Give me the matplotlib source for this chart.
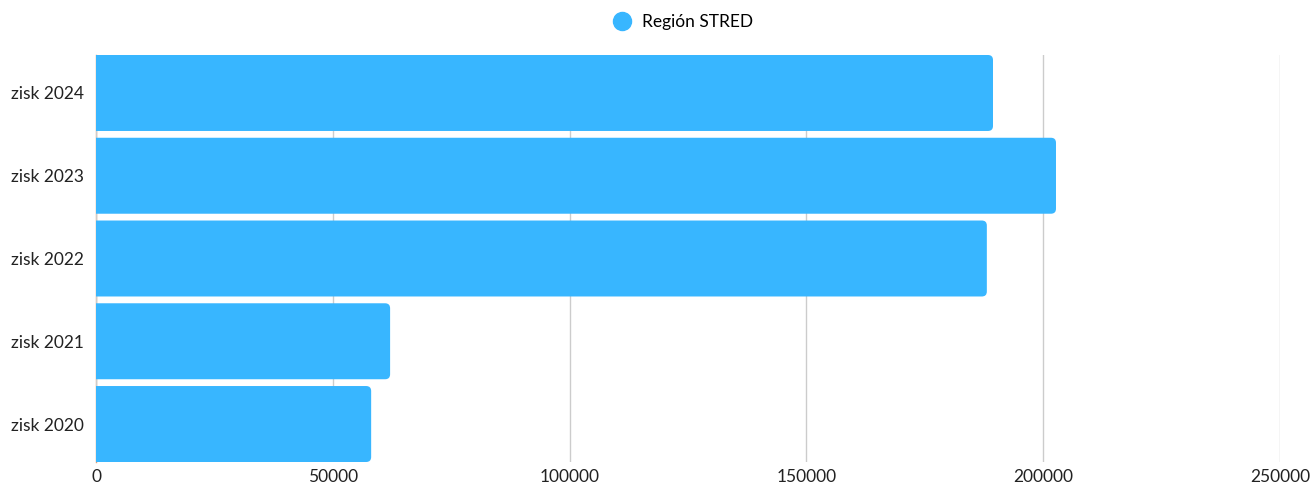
import matplotlib
matplotlib.use("Agg")
import matplotlib.pyplot as plt
from matplotlib.patches import FancyBboxPatch
from matplotlib.lines import Line2D

categories = ["zisk 2020", "zisk 2021", "zisk 2022", "zisk 2023", "zisk 2024"]
values = [58100, 62100, 188100, 202700, 189400]
series_name = "Región STRED"
x_ticks = [0, 50000, 100000, 150000, 200000, 250000]

color = "#38B6FF"
plt.rcParams['font.family'] = ['Lato', 'DejaVu Sans']

fig = plt.figure(figsize=(13.12, 4.84), dpi=100)
ax = fig.add_axes([96/1312, 1 - 462/484, (1280 - 96)/1312, (462 - 55)/484])

h = 0.918
xmax = 250000
ax.set_xlim(0, xmax)
ax.set_ylim(-h/2, len(categories) - 1 + h/2)

# axes pixel size, for rounding corners in data units
ax_w = 1280 - 96
ax_h = 462 - 55
x_per_px = xmax / ax_w
y_per_px = (len(categories) - 1 + h) / ax_h
r_px = 5
for i, v in enumerate(values):
    box = FancyBboxPatch((-20 * x_per_px, i - h/2), v + 20 * x_per_px, h,
                         boxstyle=f"round,pad=0,rounding_size={r_px * x_per_px}",
                         mutation_aspect=y_per_px / x_per_px,
                         facecolor=color, edgecolor="none", zorder=3)
    ax.add_patch(box)

ax.set_xticks(x_ticks)
ax.set_xticklabels([str(t) for t in x_ticks], fontsize=12.5, color="#222222")
ax.set_yticks(range(len(categories)))
ax.set_yticklabels(categories, fontsize=12.5, color="#222222")
ax.tick_params(axis="x", length=0, pad=5)
ax.tick_params(axis="y", length=0, pad=8.6)
ax.grid(axis="x", color="#cccccc", linewidth=1, zorder=0)
for s in ["top", "right", "bottom"]:
    ax.spines[s].set_visible(False)
ax.spines["left"].set_color("#d9a07a")
ax.spines["left"].set_linewidth(1)
ax.spines["left"].set_zorder(1)

handle = Line2D([], [], marker="o", linestyle="none", markersize=13,
                markerfacecolor=color, markeredgecolor=color)
fig.legend([handle], [series_name], loc="center", bbox_to_anchor=(0.5175, 1 - 22/484),
           frameon=False, fontsize=12.5, handletextpad=0.2)

fig.savefig("out.png", dpi=100)
